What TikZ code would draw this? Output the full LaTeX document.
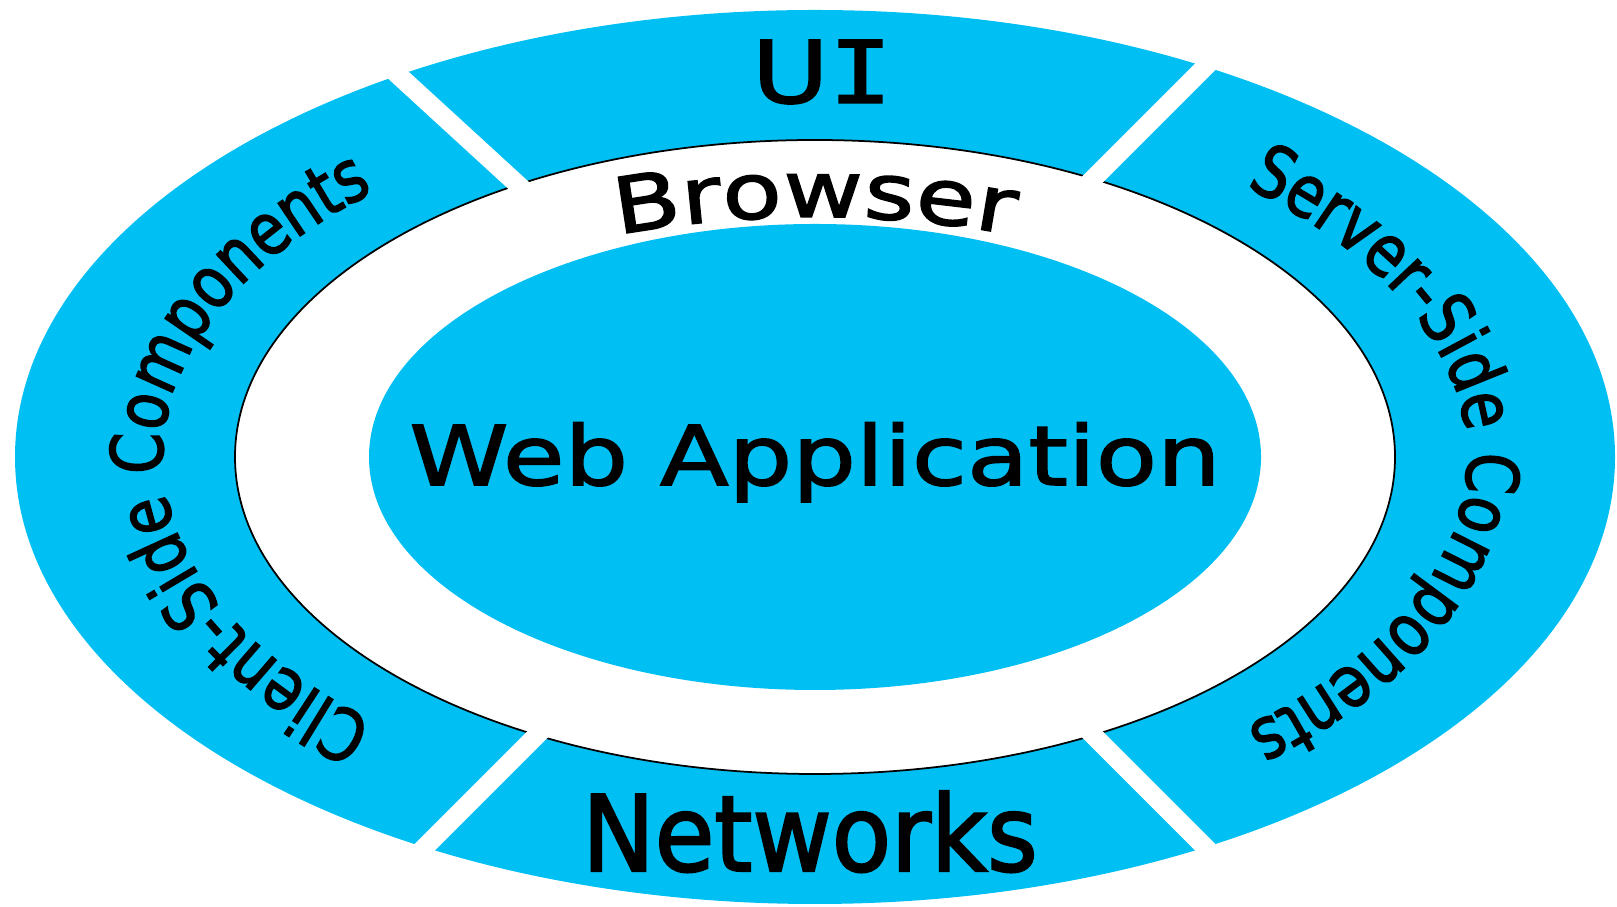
\documentclass[tikz,border=0pt]{standalone}
\usepackage{fontspec}
\setmainfont[FakeBold=2]{DejaVu Sans}
\newfontfamily\widefont[FakeStretch=1.22, FakeBold=2]{DejaVu Sans}
\newfontfamily\browserfont[FakeStretch=1.26, FakeBold=2]{DejaVu Sans}
\newfontfamily\narrowfont[FakeStretch=0.92, FakeBold=2]{DejaVu Sans}
\newfontfamily\sidefamily[FakeStretch=0.82, FakeBold=2]{DejaVu Sans}
\newfontfamily\serifI[FakeStretch=1.22, FakeBold=2]{DejaVu Sans Mono}
\usetikzlibrary{decorations.text}
\definecolor{ringcyan}{HTML}{00BFF3}
\newcommand\sidefont{\sidefamily\fontsize{20.5}{22}\selectfont}

\begin{document}
\begin{tikzpicture}[
  gapline/.style={white, line width=0.19cm},
  ringtext/.style={decorate, decoration={text along path, text align=center}},
  bigtext/.style={font=\widefont\fontsize{23.4}{28}\selectfont, inner sep=0pt},
]
\useasboundingbox (0,0) rectangle (16.17,9.07);
\coordinate (ctr) at (8.15,4.50);

% outer ring and browser band
\fill[ringcyan] (ctr) ellipse [x radius=8.00, y radius=4.47];
\filldraw[fill=white, draw=black, line width=0.5pt] (ctr) ellipse [x radius=5.80, y radius=3.17];
\foreach \ang in {45,137.5,225,315}
  \draw[gapline] (ctr) -- ++(\ang:9.5);

% core
\fill[ringcyan] (ctr) ellipse [x radius=4.46, y radius=2.33];

% labels
\node[bigtext, font=\widefont\fontsize{24.5}{28}\selectfont] (ui) at (8.22,8.35) {U{\serifI I}};
\node[bigtext, anchor=base] (webapp) at (8.15,4.22) {Web Application};
\node[inner sep=0pt, anchor=base, font=\narrowfont\fontsize{30}{34}\selectfont] (net) at (8.10,0.36) {Networks};

\path[ringtext, decoration={text={|\browserfont\fontsize{22}{24}\selectfont|Browser}}]
  ({8.15+5.2*cos(150)},{4.50+2.40*sin(150)}) arc[start angle=150, end angle=30, x radius=5.2, y radius=2.40];
\path[ringtext, decoration={text={|\sidefont|Client-{S}ide Components}}]
  ({8.15+6.52*cos(250)},{4.50+3.60*sin(250)}) arc[start angle=250, end angle=110, x radius=6.52, y radius=3.60];
\path[ringtext, decoration={text={|\sidefont|Server-{S}ide Components}}]
  ({8.15+6.52*cos(70)},{4.50+3.60*sin(70)}) arc[start angle=70, end angle=-70, x radius=6.52, y radius=3.60];
\end{tikzpicture}
\end{document}
